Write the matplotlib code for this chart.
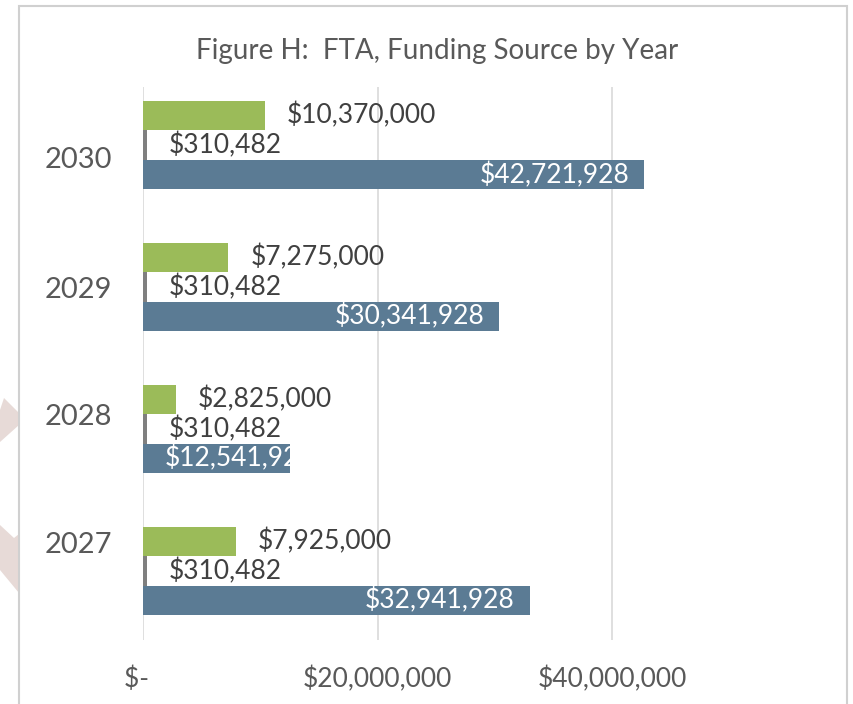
import matplotlib

matplotlib.use("Agg")
import matplotlib.pyplot as plt
from matplotlib.patches import Polygon, Rectangle
from matplotlib.ticker import FixedLocator

plt.rcParams["font.family"] = ["Lato", "DejaVu Sans"]

# Data
years = ["2027", "2028", "2029", "2030"]
green_vals = [7925000, 2825000, 7275000, 10370000]
gray_vals = [310482, 310482, 310482, 310482]
blue_vals = [32941928, 12541928, 30341928, 42721928]
x_ticks = [0, 20000000, 40000000]
x_tick_labels = ["$-  ", "$20,000,000", "$40,000,000"]
year_label_pos = [0.20, 1.10, 2.0, 2.91]

GREEN = "#9bbb59"
GRAY = "#7f7f7f"
BLUE = "#5b7b94"
TXT = "#404040"
TICK = "#595959"

W, H = 854, 704
fig = plt.figure(figsize=(W / 100, H / 100), dpi=100)


def fx(px):
    return px / W


def fy(py):
    return 1 - py / H


# Light pink chevrons at the left edge
for pts in [
    [(0, 410), (4, 398), (19, 413), (19, 425), (0, 442)],
    [(0, 525), (14, 538), (19, 534), (19, 593), (0, 570)],
]:
    fig.add_artist(
        Polygon(
            [(fx(x), fy(y)) for x, y in pts],
            closed=True,
            transform=fig.transFigure,
            facecolor="#e7dad7",
            edgecolor="none",
            zorder=0,
        )
    )

# Frame
fig.add_artist(
    Rectangle(
        (fx(19), -0.05),
        fx(847) - fx(19),
        fy(6) + 0.05,
        transform=fig.transFigure,
        fill=False,
        edgecolor="#d0d0d0",
        linewidth=1.5,
        zorder=1,
    )
)

ax = fig.add_axes([fx(143), fy(640), fx(847) - fx(143), fy(87) - fy(640)])
ax.set_facecolor("none")

ypos = list(range(len(years)))
bh = 0.208
green_bars = ax.barh([y + bh for y in ypos], green_vals, height=bh, color=GREEN, zorder=3)
gray_bars = ax.barh(ypos, gray_vals, height=bh, color=GRAY, zorder=3)
blue_bars = ax.barh([y - bh for y in ypos], blue_vals, height=bh, color=BLUE, zorder=3)

ax.set_xlim(0, 60000000)
ax.set_ylim(-0.486, 3.41)

PX = 0.72  # points per pixel at dpi 100
for bars, vals in [(green_bars, green_vals), (gray_bars, gray_vals)]:
    for b, v in zip(bars, vals):
        ax.annotate(
            f"${v:,.0f}",
            (b.get_width(), b.get_y() + b.get_height() / 2),
            xytext=(22 * PX, 0),
            textcoords="offset points",
            ha="left",
            va="center",
            fontsize=19,
            color=TXT,
            zorder=4,
        )

blue_texts = []
for b, v in zip(blue_bars, blue_vals):
    t = ax.annotate(
        f"${v:,.0f}",
        (b.get_width(), b.get_y() + b.get_height() / 2),
        xytext=(-15 * PX, 0),
        textcoords="offset points",
        ha="right",
        va="center",
        fontsize=19,
        color="white",
        zorder=4,
    )
    t.set_clip_path(b)
    t.set_clip_on(True)
    blue_texts.append((t, b))

# Labels that do not fit inside the bar start from the axis and are cut by the bar
fig.canvas.draw()
for t, b in blue_texts:
    ext = t.get_window_extent()
    x0 = ax.transData.transform((0, 0))[0]
    if ext.x0 < x0 + 22:
        t.xy = (0, t.xy[1])
        t.set_position((22 * PX, 0))
        t.set_ha("left")

ax.xaxis.set_major_locator(FixedLocator(x_ticks))
ax.set_xticklabels(x_tick_labels, fontsize=19, color=TICK)
ax.set_yticks(year_label_pos)
ax.set_yticklabels(years, fontsize=21, color=TICK)
ax.tick_params(axis="both", length=0)
ax.tick_params(axis="y", pad=22)
ax.tick_params(axis="x", pad=19)

ax.grid(axis="x", color="#d9d9d9", linewidth=1.2, zorder=0)
ax.grid(axis="y", visible=False)
for s in ax.spines.values():
    s.set_visible(False)

fig.text(
    fx(437),
    fy(51),
    "Figure H:  FTA, Funding Source by Year",
    ha="center",
    va="center",
    fontsize=20,
    color=TICK,
)

fig.savefig("out.png", dpi=100)
